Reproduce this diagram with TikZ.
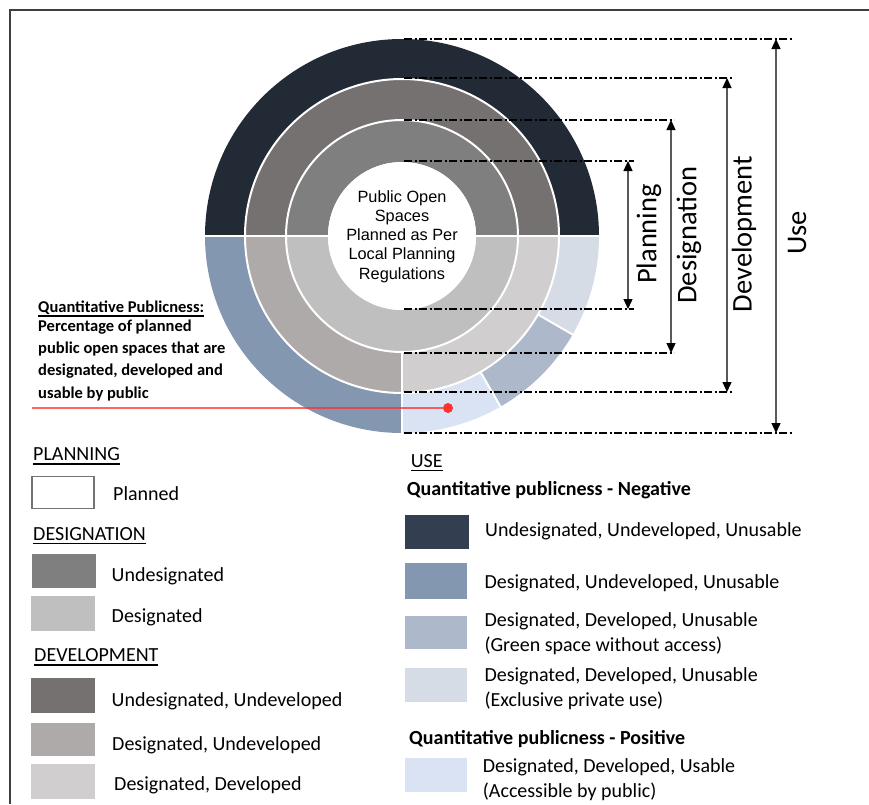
\documentclass[tikz,border=0pt]{standalone}
\usepackage{fontspec}
\setmainfont{Carlito}
\newfontfamily\arialfont{Liberation Sans}
\usetikzlibrary{arrows.meta}

% palette
\definecolor{useDark}{HTML}{222A35}
\definecolor{useDarkKey}{HTML}{333F50}
\definecolor{useSlate}{HTML}{8497B0}
\definecolor{useGreen}{HTML}{ADB9CA}
\definecolor{usePrivate}{HTML}{D6DCE5}
\definecolor{usePublic}{HTML}{DAE3F3}
\definecolor{devUU}{HTML}{767171}
\definecolor{devDU}{HTML}{AEAAAA}
\definecolor{devDD}{HTML}{D0CECE}
\definecolor{desU}{HTML}{7F7F7F}
\definecolor{desD}{HTML}{BFBFBF}
\definecolor{frameGray}{HTML}{3F3F3F}
\definecolor{pubRed}{HTML}{FF3030}

% annular sector: colour, start angle, end angle, inner radius, outer radius
\newcommand\ringsector[5]{%
  \fill[#1] (#2:#5) arc[start angle=#2, end angle=#3, radius=#5]
    -- (#3:#4) arc[start angle=#3, end angle=#2, radius=#4] -- cycle;}

% thick underline for headings
\newcommand\ulined[1]{\leavevmode\setbox0=\hbox{#1}%
  \rlap{\vrule width\wd0 height -2.6pt depth 4.1pt}\box0}

\tikzset{
  dimline/.style={black, line width=1.2pt, dash pattern=on 8pt off 2.5pt on 2pt off 2.5pt},
  dimarrow/.style={draw=black!65, line width=1.3pt,
    {Triangle[width=9pt,length=10pt,color=black]}-{Triangle[width=9pt,length=10pt,color=black]}},
  rotlabel/.style={rotate=90, inner sep=0, font=\fontsize{28.5}{30}\selectfont},
  keybox/.style={minimum width=64pt, minimum height=34pt, inner sep=0, draw=none},
  keytext/.style={anchor=base west, inner sep=0, font=\fontsize{20}{24}\selectfont},
  keyhead/.style={anchor=base west, inner sep=0, font=\fontsize{20}{24}\selectfont},
  keysub/.style={anchor=base west, inner sep=0, font=\fontsize{20}{24}\selectfont\bfseries},
  notetext/.style={anchor=base west, inner sep=0, font=\fontsize{16.5}{20}\selectfont\bfseries},
}

\begin{document}
\begin{tikzpicture}[x=1pt,y=-1pt]
\useasboundingbox (0,0) rectangle (869,804);

% frame (top and left edges)
\draw[frameGray, line width=2pt] (9.5,804) -- (9.5,9.5) -- (869,9.5);

% concentric rings
\begin{scope}[shift={(402,236)}]
  % use ring
  \ringsector{useDark}{0}{180}{157pt}{197pt}
  \ringsector{useSlate}{180}{270}{157pt}{197pt}
  \ringsector{usePublic}{270}{300}{157pt}{197pt}
  \ringsector{useGreen}{300}{330}{157pt}{197pt}
  \ringsector{usePrivate}{330}{360}{157pt}{197pt}
  % development ring
  \ringsector{devUU}{0}{180}{116pt}{157pt}
  \ringsector{devDU}{180}{270}{116pt}{157pt}
  \ringsector{devDD}{270}{360}{116pt}{157pt}
  % designation ring
  \ringsector{desU}{0}{180}{74pt}{116pt}
  \ringsector{desD}{180}{360}{74pt}{116pt}
  % planning core
  \fill[white] (0,0) circle[radius=74pt];
  % white separators
  \draw[white, line width=2pt] (0,0) circle[radius=116pt] (0,0) circle[radius=157pt];
  \draw[white, line width=2pt] (180:198pt) -- (0:198pt);
  \draw[white, line width=2pt] (270:116pt) -- (270:198pt);
  \draw[white, line width=2pt] (300:157pt) -- (300:198pt);
  \draw[white, line width=2pt] (330:157pt) -- (330:198pt);
\end{scope}

\node[align=center, inner sep=0, font=\arialfont\fontsize{16.3}{19.2}\selectfont]
  (core) at (402,236.5) {Public Open\\Spaces\\Planned as Per\\Local Planning\\Regulations};

% dimension lines
\coordinate (useTop) at (404,39);   \coordinate (useTopEnd) at (792,39);
\coordinate (useBot) at (404,433);  \coordinate (useBotEnd) at (792,433);
\coordinate (devTop) at (404,78);   \coordinate (devTopEnd) at (733,78);
\coordinate (devBot) at (404,392);  \coordinate (devBotEnd) at (733,392);
\coordinate (desTop) at (404,120);  \coordinate (desTopEnd) at (674,120);
\coordinate (desBot) at (404,353);  \coordinate (desBotEnd) at (674,353);
\coordinate (plnTop) at (404,161);  \coordinate (plnTopEnd) at (634,161);
\coordinate (plnBot) at (404,309);  \coordinate (plnBotEnd) at (634,309);
\foreach \a in {useTop,useBot,devTop,devBot,desTop,desBot,plnTop,plnBot}
  \draw[dimline] (\a) -- (\a End);

\coordinate (useArrA) at (776,39);  \coordinate (useArrB) at (776,433);
\coordinate (devArrA) at (727,78);  \coordinate (devArrB) at (727,392);
\coordinate (desArrA) at (671,120); \coordinate (desArrB) at (671,353);
\coordinate (plnArrA) at (628,161); \coordinate (plnArrB) at (628,309);
\foreach \a in {use,dev,des,pln}
  \draw[dimarrow] (\a ArrA) -- (\a ArrB);

\node[rotlabel] (plnLbl) at (649,234) {Planning};
\node[rotlabel] (desLbl) at (689,235) {Designation};
\node[rotlabel] (devLbl) at (744,234) {Development};
\node[rotlabel] (useLbl) at (797,233) {Use};

% quantitative publicness note
\node[notetext] (qp1) at (38,312.7) {\ulined{Quantitative Publicness:}};
\node[notetext] (qp2) at (38,331.7) {Percentage of planned};
\node[notetext] (qp3) at (38,353.3) {public open spaces that are};
\node[notetext] (qp4) at (38,375) {designated, developed and};
\node[notetext] (qp5) at (38,398.3) {usable by public};
\coordinate (redStart) at (32,408);
\node[circle, fill=pubRed, inner sep=0, minimum size=10pt] (redDot) at (448,408) {};
\draw[pubRed, opacity=0.75, line width=1.2pt] (redStart) -- (redDot);

% legend: planning
\node[keyhead] (hPln) at (33,460.7) {\ulined{PLANNING}};
\node[keybox, draw=black!55, line width=1.5pt, fill=white, minimum width=62pt, minimum height=32pt] (kPln) at (63,492.5) {};
\node[keytext] (tPln) at (113,500.7) {Planned};

% legend: designation
\node[keyhead] (hDes) at (33,540) {\ulined{DESIGNATION}};
\node[keybox, fill=desU] (kDesU) at (63.5,571) {};
\node[keytext] (tDesU) at (111.5,581.7) {Undesignated};
\node[keybox, fill=desD, minimum height=35pt] (kDesD) at (63,613.5) {};
\node[keytext] (tDesD) at (111.5,622.3) {Designated};

% legend: development
\node[keyhead] (hDev) at (34,661.7) {\ulined{DEVELOPMENT}};
\node[keybox, fill=devUU, minimum height=35pt] (kDevUU) at (63,695.5) {};
\node[keytext] (tDevUU) at (111.5,706.7) {Undesignated, Undeveloped};
\node[keybox, fill=devDU, minimum height=33pt] (kDevDU) at (63,739.5) {};
\node[keytext] (tDevDU) at (112,750) {Designated, Undeveloped};
\node[keybox, fill=devDD, minimum height=35pt] (kDevDD) at (63,781.5) {};
\node[keytext] (tDevDD) at (114,790.7) {Designated, Developed};

% legend: use
\node[keyhead] (hUse) at (410.7,467.3) {\ulined{USE}};
\node[keysub] (sNeg) at (406.7,495) {Quantitative publicness - Negative};
\node[keybox, fill=useDarkKey] (kUse1) at (437,532) {};
\node[keytext] (tUse1) at (485,536.7) {Undesignated, Undeveloped, Unusable};
\node[keybox, fill=useSlate, minimum width=62pt, minimum height=36pt] (kUse2) at (436,581) {};
\node[keytext] (tUse2) at (484.3,588.3) {Designated, Undeveloped, Unusable};
\node[keybox, fill=useGreen, minimum width=62pt, minimum height=33pt] (kUse3) at (436,632.5) {};
\node[keytext] (tUse3a) at (484.3,626) {Designated, Developed, Unusable};
\node[keytext] (tUse3b) at (484.3,651) {(Green space without access)};
\node[keybox, fill=usePrivate, minimum width=62pt] (kUse4) at (436,685) {};
\node[keytext] (tUse4a) at (484.3,681.7) {Designated, Developed, Unusable};
\node[keytext] (tUse4b) at (484.3,706.7) {(Exclusive private use)};
\node[keysub] (sPos) at (409,744) {Quantitative publicness - Positive};
\node[keybox, fill=usePublic, minimum width=62pt] (kUse5) at (436,775) {};
\node[keytext] (tUse5a) at (482.7,772.7) {Designated, Developed, Usable};
\node[keytext] (tUse5b) at (482.7,797.3) {(Accessible by public)};
\end{tikzpicture}
\end{document}
